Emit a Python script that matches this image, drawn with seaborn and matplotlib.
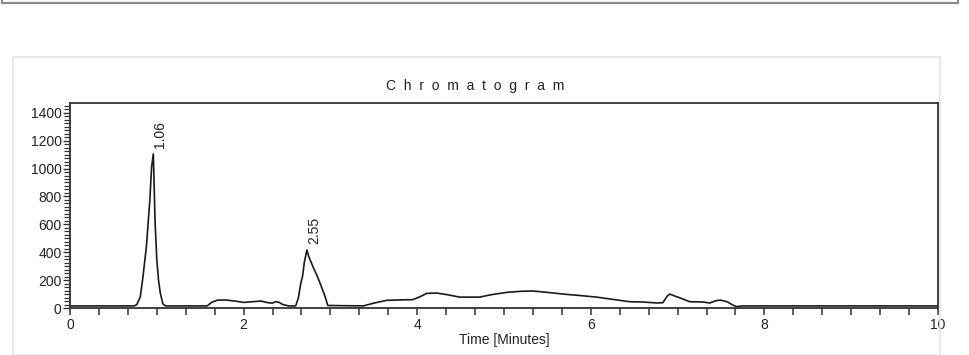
import numpy as np
import pandas as pd
import seaborn as sns
import matplotlib.pyplot as plt
from matplotlib.ticker import MultipleLocator
from matplotlib.lines import Line2D
from matplotlib.patches import Rectangle
from matplotlib.transforms import Bbox, TransformedBbox

# chromatogram trace (time in minutes, signal)
time_min = [0.00, 0.74, 0.77, 0.81, 0.84, 0.88, 0.92, 0.94, 0.96, 0.98, 1.00, 1.02, 1.04, 1.07, 1.10,
            1.58, 1.63, 1.70, 1.80, 1.90, 2.00, 2.10, 2.20, 2.28, 2.33, 2.37, 2.41, 2.45, 2.52,
            2.60, 2.63, 2.66, 2.68, 2.70, 2.73, 2.75, 2.80, 2.84, 2.88, 2.91, 2.94, 2.97,
            3.38, 3.50, 3.65, 3.80, 3.95, 4.03, 4.11, 4.23, 4.35, 4.49, 4.72, 4.85, 5.03, 5.20,
            5.33, 5.50, 5.68, 5.90, 6.07, 6.25, 6.45, 6.60, 6.76, 6.83, 6.88, 6.91, 6.97, 7.03,
            7.14, 7.29, 7.37, 7.44, 7.49, 7.57, 7.64, 7.68, 7.75, 10.00]
signal = [15, 15, 25, 80, 220, 440, 775, 1010, 1105, 620, 345, 200, 108, 30, 15,
          15, 40, 57, 57, 50, 40, 45, 50, 38, 35, 45, 40, 25, 15,
          15, 70, 180, 230, 330, 416, 370, 295, 240, 180, 130, 80, 18,
          15, 35, 55, 58, 60, 80, 105, 107, 95, 78, 78, 95, 112, 120,
          122, 112, 100, 88, 78, 62, 45, 43, 36, 38, 85, 100, 85, 72,
          45, 43, 36, 52, 57, 45, 20, 10, 15, 15]

peak_times = [0.96, 2.73]
peak_heights = [1105, 416]
peak_labels = ['1.06', '2.55']

df = pd.DataFrame({'time': time_min, 'signal': signal})

sns.set_style('white')
plt.rcParams['font.family'] = ['Liberation Sans', 'DejaVu Sans']

fig = plt.figure(figsize=(9.7, 3.55), dpi=100)
ax = fig.add_axes([70/970, 1 - 308/355, 868/970, 205/355])

sns.lineplot(data=df, x='time', y='signal', ax=ax, color='#1a1a1a',
             linewidth=1.2, estimator=None, sort=False)

for t, h, lbl in zip(peak_times, peak_heights, peak_labels):
    ax.annotate(lbl, xy=(t, h), xytext=(5, 4), textcoords='offset points',
                rotation=90, ha='center', va='bottom', fontsize=10, color='#222')

ax.set_xlim(0, 10)
ax.set_ylim(0, 1470)
ax.xaxis.set_major_locator(MultipleLocator(2))
ax.xaxis.set_minor_locator(MultipleLocator(1/3))
ax.yaxis.set_minor_locator(MultipleLocator(25))
ax.set_yticks(np.arange(0, 1401, 200))
ax.tick_params(axis='both', which='both', direction='out', colors='#333',
               labelsize=10, labelcolor='#222')
ax.tick_params(axis='x', which='both', length=5, width=1.1, pad=2)
ax.tick_params(axis='y', which='major', length=5, width=1, pad=1)
ax.tick_params(axis='y', which='minor', length=4, width=0.9)
ax.tick_params(left=True, bottom=True, which='both')

for sp in ax.spines.values():
    sp.set_visible(True)
    sp.set_color('#333')
    sp.set_linewidth(1.3)

ax.set_xlabel('Time [Minutes]', fontsize=10, labelpad=1, color='#222')
ax.set_ylabel('')

fig.text(475/970, 1 - 86/355, '  '.join('Chromatogram'), ha='center', va='center',
         fontsize=10, color='#222')

# frame bits around the chart
fig.add_artist(Rectangle((13/970, 0), (940 - 13)/970, 1 - 57/355, transform=fig.transFigure,
                         fill=False, edgecolor='#e4e4e4', linewidth=1.2))
fig.add_artist(Line2D([0.002, 0.988], [1 - 3/355, 1 - 3/355], color='#8a8a8a', lw=1.6))
fig.add_artist(Line2D([0.002, 0.002], [1 - 3/355, 1], color='#8a8a8a', lw=1.6))
fig.add_artist(Line2D([0.988, 0.988], [1 - 3/355, 1], color='#8a8a8a', lw=1.6))

# the last tick label is cut by the panel edge in the original
fig.canvas.draw()
clip = TransformedBbox(Bbox([[0, 0], [942/970, 1]]), fig.transFigure)
last = ax.xaxis.get_major_ticks()[-1].label1
last.set_clip_box(clip)
last.set_clip_on(True)

fig.savefig('out.png', dpi=100)
